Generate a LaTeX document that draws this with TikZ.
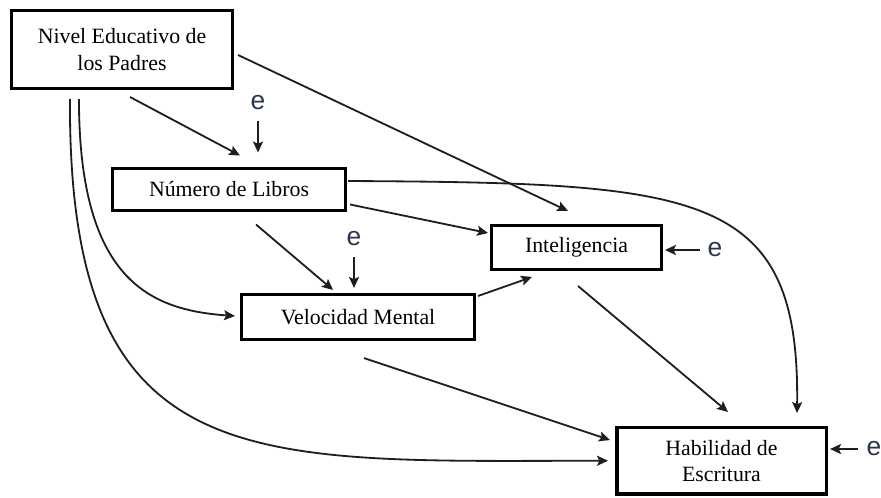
\documentclass[tikz,border=0pt]{standalone}
\usepackage{fontspec}
\setmainfont{Liberation Serif}
\setsansfont{Liberation Sans}
\usetikzlibrary{arrows.meta}
\definecolor{linegray}{HTML}{1E1E1E}
\definecolor{egray}{HTML}{2B3550}
\begin{document}
\begin{tikzpicture}[x=0.55pt,y=-0.55pt,inner sep=0pt,outer sep=0pt,
font=\fontsize{12}{14.5}\selectfont,
varblock/.style={draw,rectangle,line width=1.7pt,align=center},
conn/.style={draw=linegray,line width=1pt,-{Stealth[length=6pt,width=5.5pt,inset=1.2pt]}},
errlabel/.style={font=\sffamily\fontsize{14.5}{14.5}\selectfont,text=egray}]
\useasboundingbox (0,0) rectangle (881,497);
% variables
\draw (122,49.5) node[varblock,minimum width=121.6pt,minimum height=42.9pt] (padres) {Nivel Educativo de\\los Padres};
\draw (229,189.5) node[varblock,minimum width=128.2pt,minimum height=23.1pt] (libros) {Número de Libros};
\draw (576.5,247.5) node[varblock,minimum width=93.5pt,minimum height=24.2pt] (intel) {Inteligencia};
\draw (358,317) node[varblock,minimum width=128.2pt,minimum height=24.8pt] (veloc) {Velocidad Mental};
\draw (721.5,460.75) node[varblock,minimum width=115pt,minimum height=36.6pt] (habil) {Habilidad de\\Escritura};
% error terms
\draw (258,103) node[errlabel] (eL) {e};
\draw (354,239) node[errlabel] (eV) {e};
\draw (715,250) node[errlabel] (eI) {e};
\draw (874,449) node[errlabel] (eH) {e};
\draw[conn,shorten <=5.7pt,shorten >=8.8pt] (eL) -- (eL |- libros.north);
\draw[conn,shorten <=6.2pt,shorten >=3.6pt] (eV) -- (eV |- veloc.north);
\draw[conn,shorten <=4.4pt,shorten >=1.9pt] (eI) -- (eI -| intel.east);
\draw[conn,shorten <=5pt,shorten >=2.2pt] (eH) -- (eH -| habil.east);
% paths
\draw[conn] ([shift={(8,8.5)}]padres.south) -- ([shift={(11,-13)}]libros.north);
\draw[conn] ([shift={(5.5,5.5)}]padres.east) -- ([shift={(-8.5,-14.5)}]intel.north);
\draw[conn] ([shift={(58.5,10.5)}]padres.south west) .. controls +(-2,381) and +(-358,0) .. ([shift={(-9,0)}]habil.west);
\draw[conn] ([shift={(67.5,10.5)}]padres.south west) .. controls +(0,181) and +(-85,-6) .. ([shift={(-6.5,-1)}]veloc.west);
\draw[conn] ([shift={(2.5,-8.5)}]libros.east) .. controls +(352,2) and +(3,-223) .. ([shift={(75.5,-14.5)}]habil.north);
\draw[conn] ([shift={(4.5,-6)}]libros.south east) -- ([shift={(-3.5,7.5)}]intel.north west);
\draw[conn] ([shift={(27,14)}]libros.south) -- ([shift={(-25,-4.5)}]veloc.north);
\draw[conn] ([shift={(3.5,1.5)}]veloc.north east) -- ([shift={(-44.5,7.5)}]intel.south);
\draw[conn] ([shift={(6,18.5)}]veloc.south) -- ([shift={(-7,-20.75)}]habil.west);
\draw[conn] ([shift={(1.5,16.5)}]intel.south) -- ([shift={(6.5,-15.5)}]habil.north);
\end{tikzpicture}
\end{document}
